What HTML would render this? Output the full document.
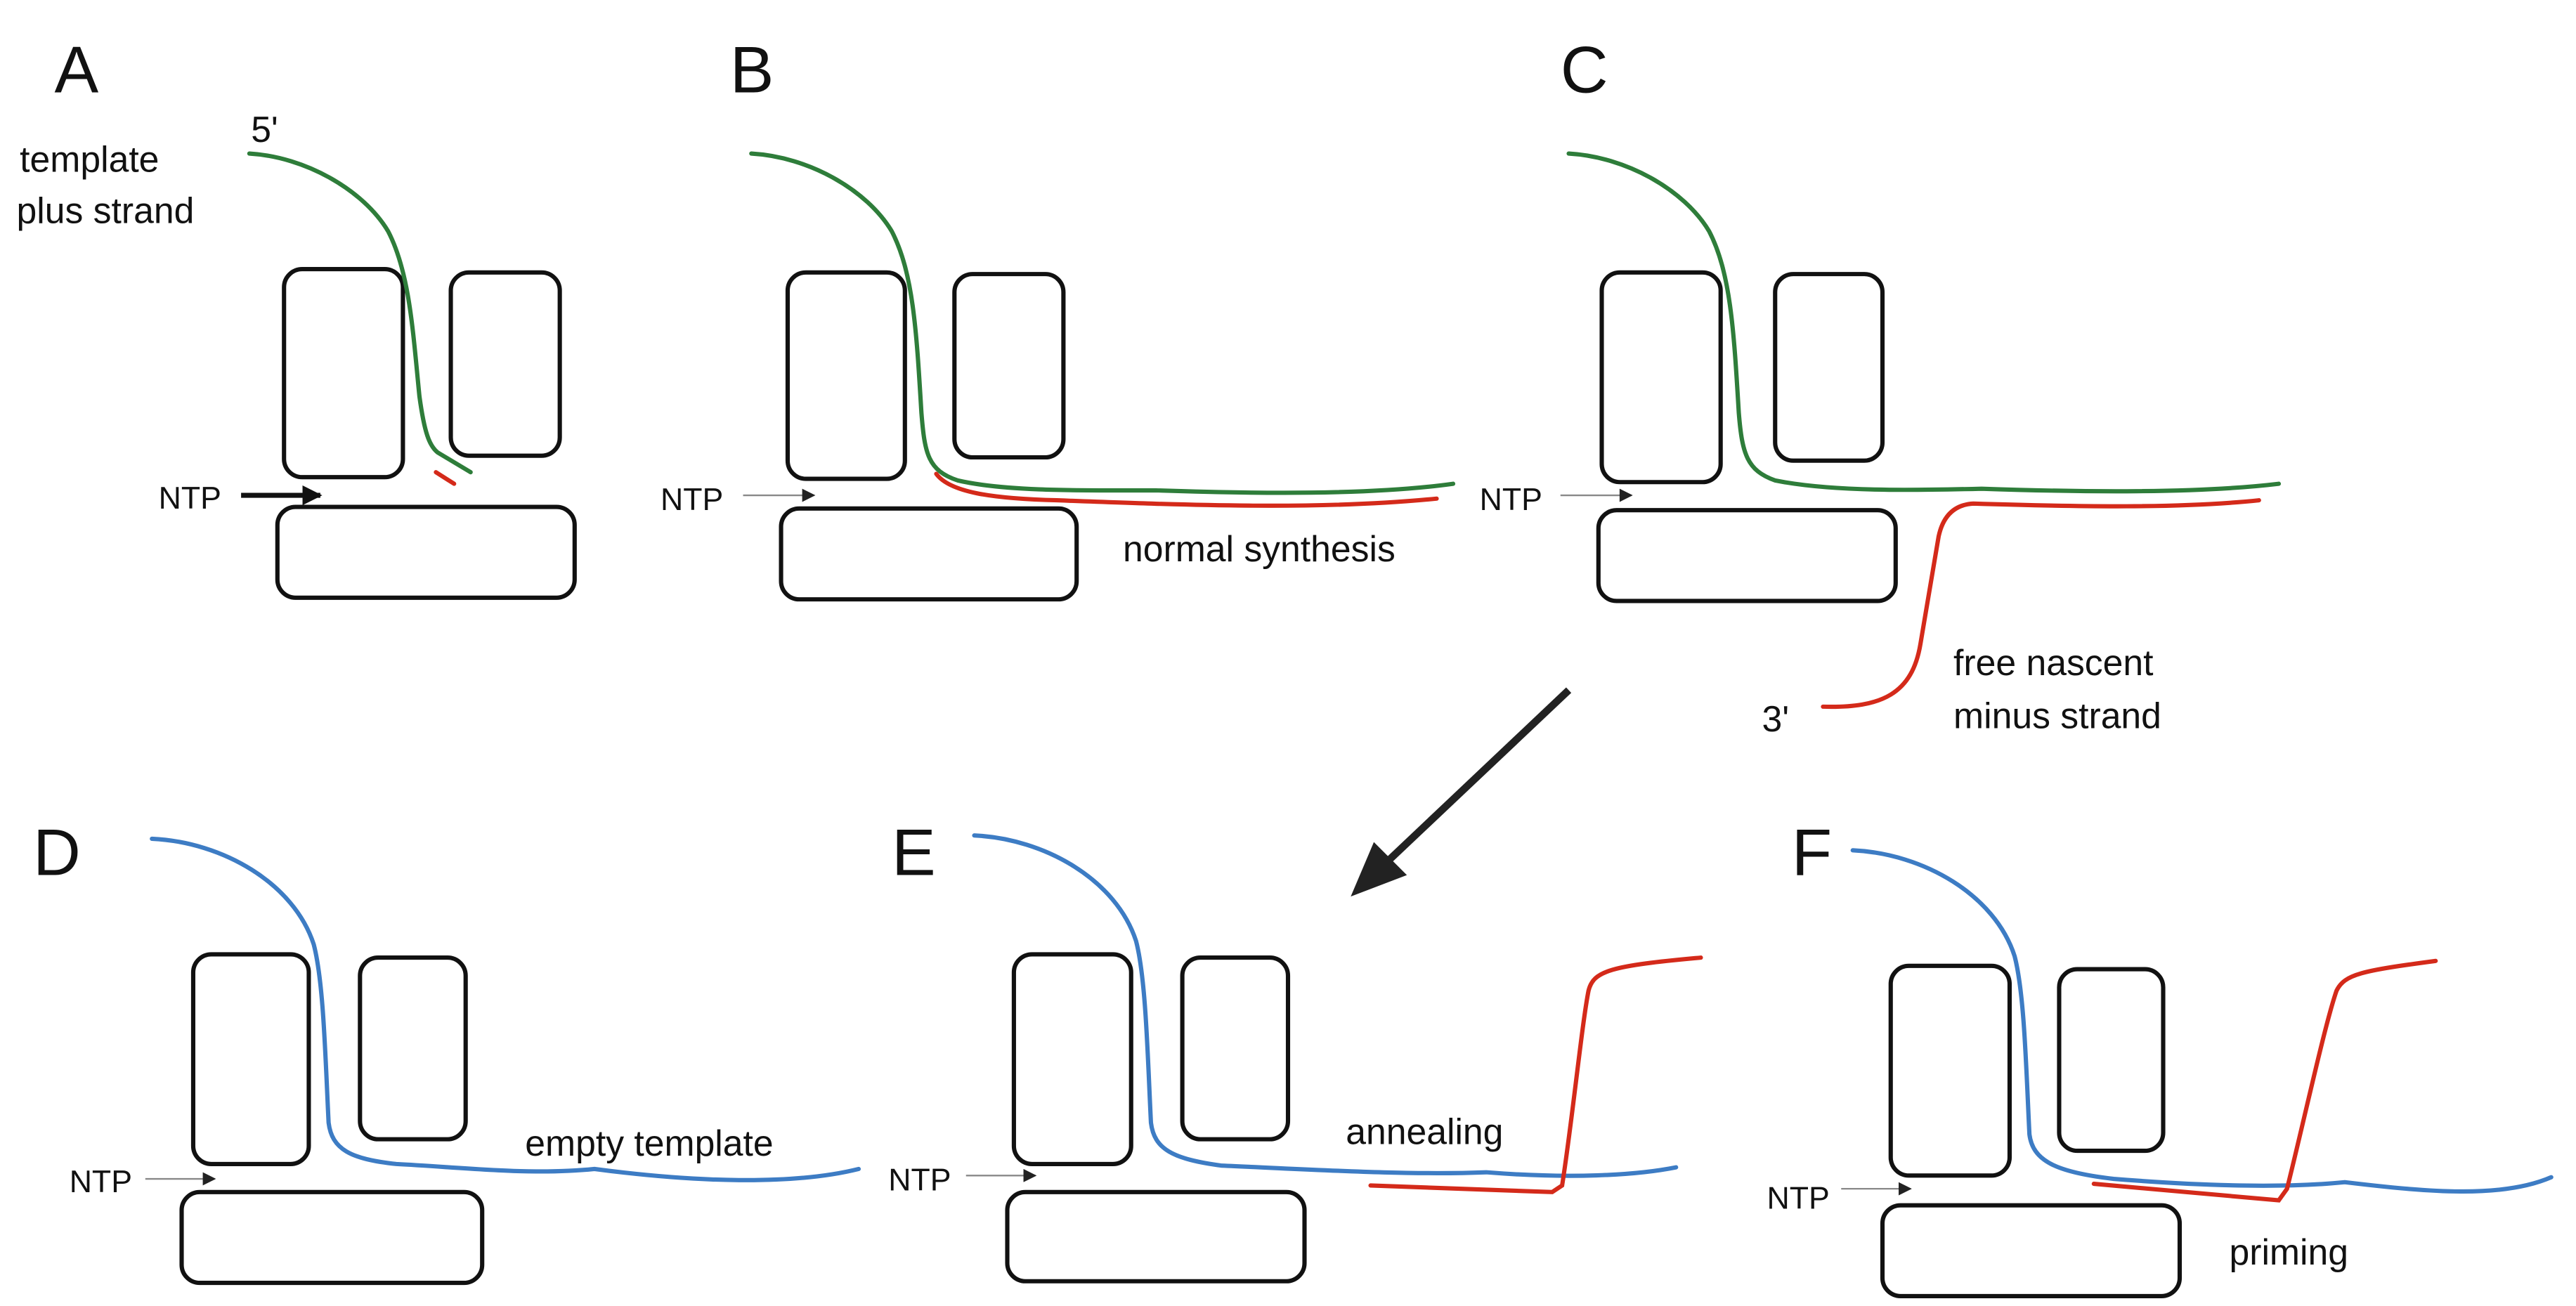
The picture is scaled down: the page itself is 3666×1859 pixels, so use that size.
<!DOCTYPE html>
<html><head><meta charset="utf-8"><style>
html,body{margin:0;padding:0;background:#fff;}
svg{display:block;}
text{font-family:"Liberation Sans",Arial,sans-serif;fill:#111;}
</style></head><body>
<svg width="3666" height="1859" viewBox="0 0 1560 791" preserveAspectRatio="none" xmlns="http://www.w3.org/2000/svg">
<defs>
<marker id="ah" viewBox="0 0 10 10" refX="9" refY="5" markerWidth="4" markerHeight="4" orient="auto"><path d="M0,0 L10,5 L0,10 z" fill="#111"/></marker>
<marker id="ah2" viewBox="0 0 10 10" refX="9" refY="5" markerWidth="12" markerHeight="8" orient="auto" markerUnits="userSpaceOnUse"><path d="M0,0 L10,5 L0,10 z" fill="#222"/></marker>
</defs>
<g fill="none" stroke="#111" stroke-width="2.6">
<rect x="172" y="163" width="72" height="126" rx="11"/>
<rect x="273" y="165" width="66" height="111" rx="11"/>
<rect x="168" y="307" width="180" height="55" rx="11"/>
<rect x="477" y="165" width="71" height="125" rx="11"/>
<rect x="578" y="166" width="66" height="111" rx="11"/>
<rect x="473" y="308" width="179" height="55" rx="11"/>
<rect x="970" y="165" width="72" height="127" rx="11"/>
<rect x="1075" y="166" width="65" height="113" rx="11"/>
<rect x="968" y="309" width="180" height="55" rx="11"/>
<rect x="117" y="578" width="70" height="127" rx="11"/>
<rect x="218" y="580" width="64" height="110" rx="11"/>
<rect x="110" y="722" width="182" height="55" rx="11"/>
<rect x="614" y="578" width="71" height="127" rx="11"/>
<rect x="716" y="580" width="64" height="110" rx="11"/>
<rect x="610" y="722" width="180" height="54" rx="11"/>
<rect x="1145" y="585" width="72" height="127" rx="11"/>
<rect x="1247" y="587" width="63" height="110" rx="11"/>
<rect x="1140" y="730" width="180" height="55" rx="11"/>
</g>
<g fill="none" stroke-width="2.6" stroke-linecap="round">
<path d="M151,93 C185,95 220,115 235,140 C248,165 250,200 254,240 C257,262 260,270 265,274 L285,286" stroke="#2e7d3a"/>
<path d="M264,286 L275,293" stroke="#d42a1a"/>
<path d="M455,93 C490,95 525,115 540,140 C553,165 555,200 558,250 C560,275 562,285 580,291 C610,298 660,297 700,297 C760,299 830,300 880,293" stroke="#2e7d3a"/>
<path d="M567,287 C575,298 600,302 640,303 C720,306 800,309 870,302" stroke="#d42a1a"/>
<path d="M950,93 C985,95 1020,115 1035,140 C1048,165 1050,200 1053,250 C1055,275 1058,285 1075,291 C1110,298 1160,297 1200,296 C1260,298 1330,299 1380,293" stroke="#2e7d3a"/>
<path d="M1104,428 C1140,429 1158,420 1163,390 L1174,325 Q1178,306 1195,305 C1260,307 1320,308 1368,303" stroke="#d42a1a"/>
<path d="M92,508 C135,510 178,535 190,572 C196,595 197,640 199,680 C201,696 212,702 240,705 C280,707 320,712 360,708 C420,716 480,718 520,708" stroke="#3d7cc4"/>
<path d="M590,506 C633,508 676,533 688,570 C694,593 695,640 697,680 C699,696 710,702 740,706 C790,708 850,712 900,710 C950,714 990,712 1015,707" stroke="#3d7cc4"/>
<path d="M830,718 L940,722 L946,718 C952,680 958,620 962,600 C965,588 975,585 1030,580" stroke="#d42a1a"/>
<path d="M1122,515 C1165,517 1208,542 1220,579 C1226,602 1227,647 1229,687 C1231,703 1245,710 1280,714 C1330,718 1380,720 1420,716 C1470,722 1515,726 1545,713" stroke="#3d7cc4"/>
<path d="M1268,717 L1380,727 L1385,720 C1395,680 1408,620 1415,600 C1420,590 1430,588 1475,582" stroke="#d42a1a"/>
</g>
<line x1="146" y1="300" x2="194" y2="300" stroke="#111" stroke-width="3" marker-end="url(#ah)"/>
<line x1="450" y1="300" x2="493" y2="300" stroke="#888" stroke-width="1" marker-end="url(#ah2)"/>
<line x1="945" y1="300" x2="988" y2="300" stroke="#888" stroke-width="1" marker-end="url(#ah2)"/>
<line x1="88" y1="714" x2="130" y2="714" stroke="#888" stroke-width="1" marker-end="url(#ah2)"/>
<line x1="585" y1="712" x2="627" y2="712" stroke="#888" stroke-width="1" marker-end="url(#ah2)"/>
<line x1="1115" y1="720" x2="1157" y2="720" stroke="#888" stroke-width="1" marker-end="url(#ah2)"/>
<line x1="950" y1="418" x2="840" y2="522" stroke="#222" stroke-width="4.5"/>
<path d="M818,543 L832,510 L852,530 z" fill="#222"/>
<g font-size="40">
<text x="33" y="56">A</text><text x="442" y="56">B</text><text x="945" y="56">C</text>
<text x="20" y="530">D</text><text x="540" y="530">E</text><text x="1085" y="530">F</text>
</g>
<g font-size="22">
<text x="152" y="86">5'</text>
<text x="12" y="104">template</text>
<text x="10" y="135">plus strand</text>
<text x="680" y="340">normal synthesis</text>
<text x="1183" y="409">free nascent</text>
<text x="1183" y="441">minus strand</text>
<text x="1067" y="443">3'</text>
<text x="318" y="700">empty template</text>
<text x="815" y="693">annealing</text>
<text x="1350" y="766">priming</text>
</g>
<g font-size="19">
<text x="96" y="308">NTP</text>
<text x="400" y="309">NTP</text>
<text x="896" y="309">NTP</text>
<text x="42" y="722">NTP</text>
<text x="538" y="721">NTP</text>
<text x="1070" y="732">NTP</text>
</g>
</svg>
</body></html>
